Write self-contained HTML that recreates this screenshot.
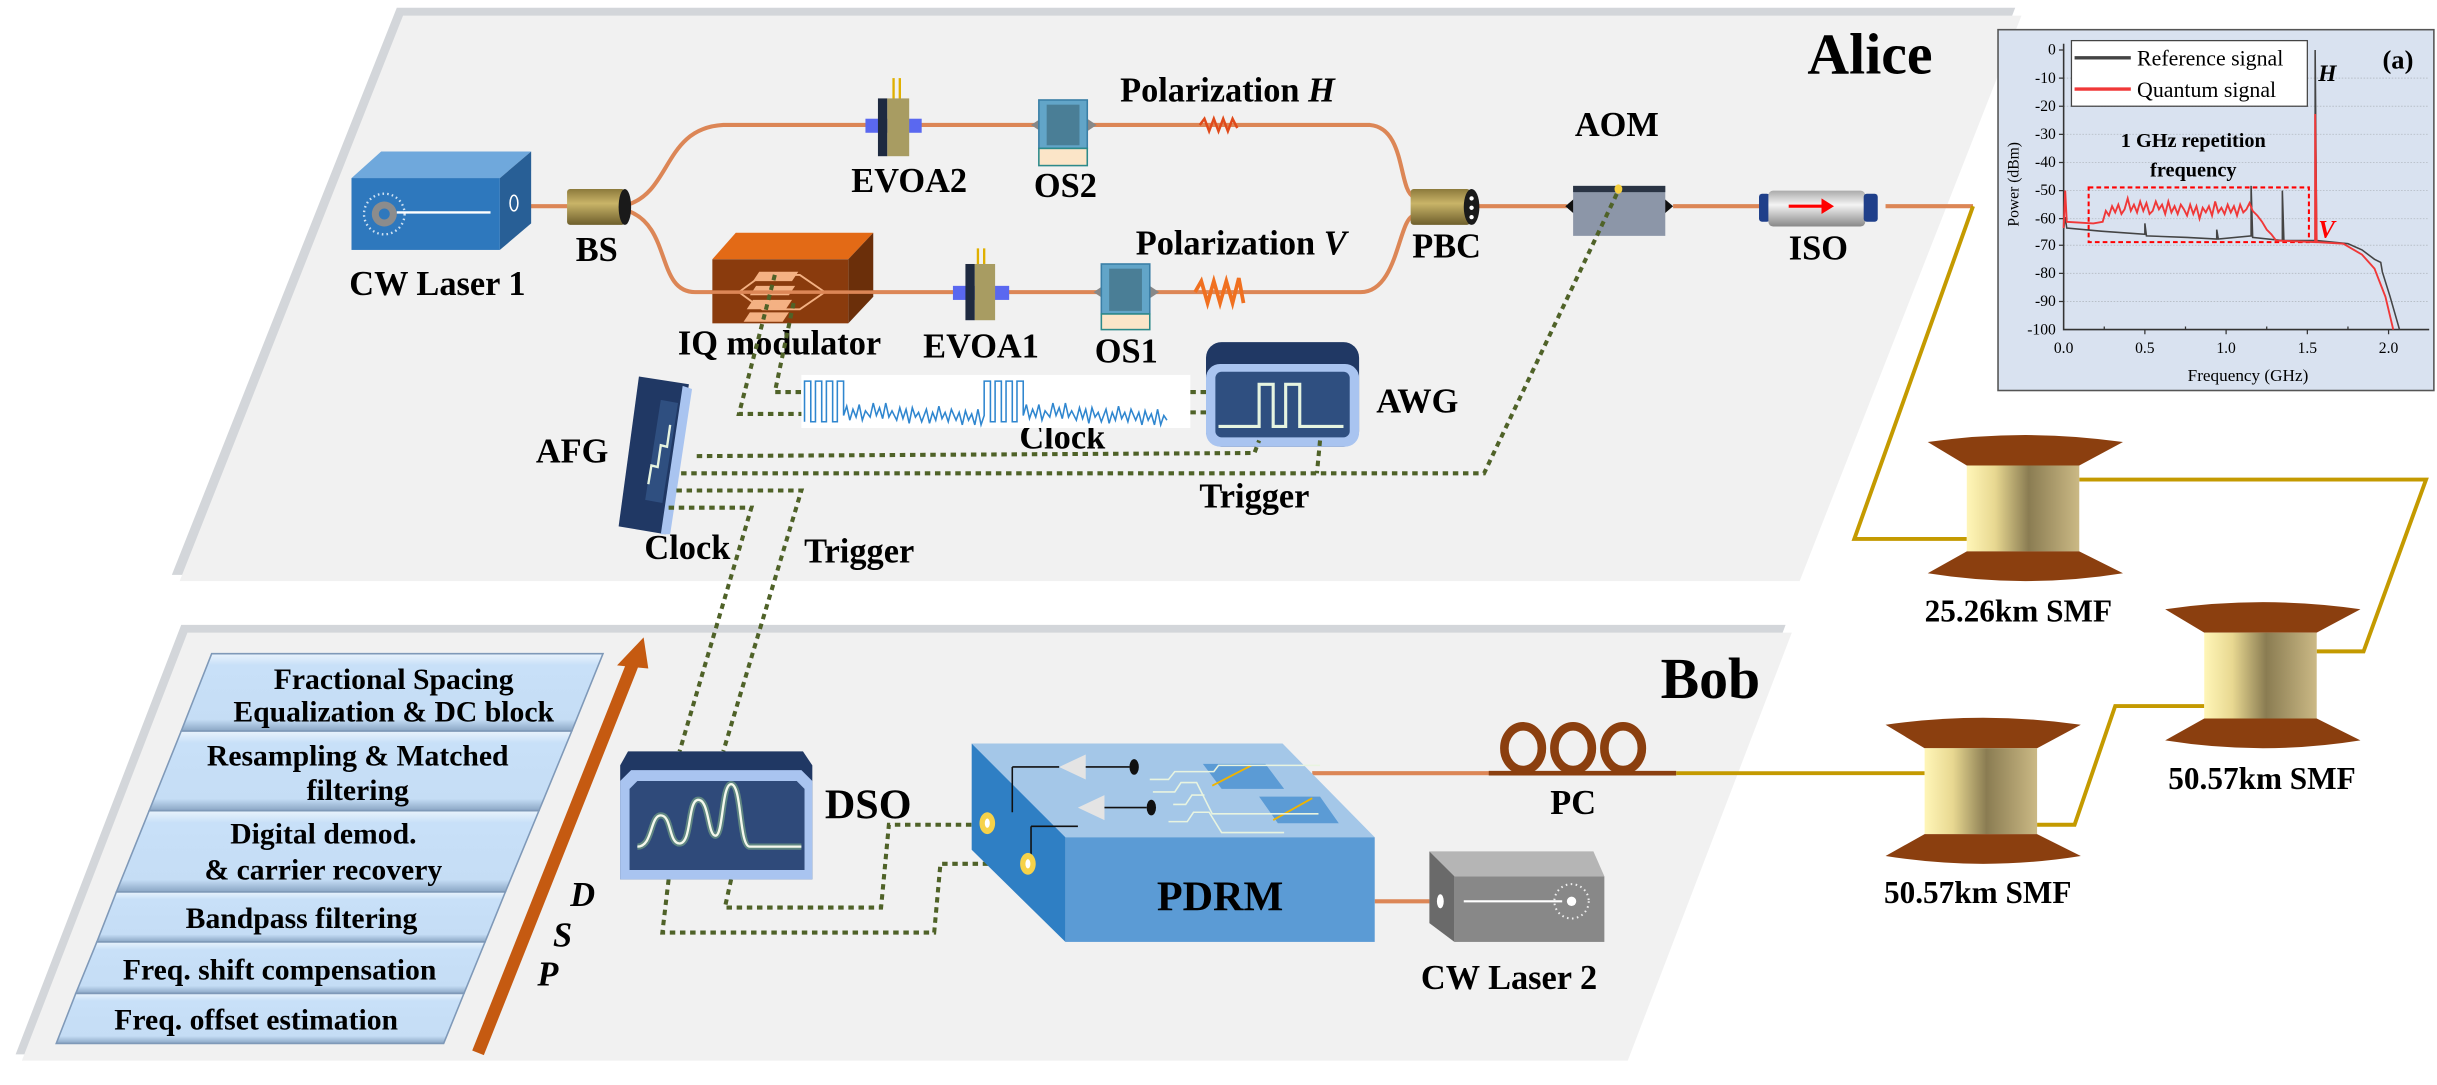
<!DOCTYPE html>
<html><head><meta charset="utf-8"><style>
html,body{margin:0;padding:0;background:#fff;}
svg{display:block;}
</style></head><body>
<svg width="2437" height="1085" viewBox="0 0 1560 694.6" preserveAspectRatio="none" xmlns="http://www.w3.org/2000/svg" font-family="Liberation Serif, serif" font-weight="bold">
<defs>
<linearGradient id="barrel" x1="0" x2="1" y1="0" y2="0">
<stop offset="0" stop-color="#fff6b8"/><stop offset="0.25" stop-color="#e8d891"/><stop offset="0.55" stop-color="#8a7c52"/><stop offset="1" stop-color="#cbb985"/></linearGradient>
<linearGradient id="dsp" x1="0" x2="0" y1="0" y2="1">
<stop offset="0" stop-color="#e9f3fc"/><stop offset="0.15" stop-color="#c8e0f8"/><stop offset="0.85" stop-color="#c5ddf5"/><stop offset="1" stop-color="#8aa6c4"/></linearGradient>
<linearGradient id="iso" x1="0" x2="0" y1="0" y2="1">
<stop offset="0" stop-color="#aaa"/><stop offset="0.4" stop-color="#f4f4f4"/><stop offset="1" stop-color="#888"/></linearGradient>
<linearGradient id="bs" x1="0" x2="0" y1="0" y2="1">
<stop offset="0" stop-color="#8c7a3c"/><stop offset="0.4" stop-color="#c9b468"/><stop offset="1" stop-color="#6e5f2c"/></linearGradient>
<g id="spool">
<path d="M0,5 Q62.5,-4 125,5 L97,20 L25,20 Z" fill="#8b3f0f"/>
<rect x="25" y="20" width="72" height="55" fill="url(#barrel)"/>
<path d="M25,75 L97,75 L125,89 Q62.5,99 0,89 Z" fill="#8b3f0f"/>
</g>
</defs>

<polygon points="254,5 1290,5 1150,368 110,368" fill="#d3d6da"/>
<polygon points="258,10 1294,10 1152,372 115,372" fill="#f1f1f1"/>
<polygon points="116,400 1143,400 1040,675 10,675" fill="#d3d6da"/>
<polygon points="120,405 1147,405 1042,679 14,679" fill="#f1f1f1"/>

<text x="1157" y="47" font-size="37">Alice</text>
<text x="1063" y="447" font-size="37">Bob</text>

<g fill="none" stroke="#dc8656" stroke-width="2.6">
<path d="M322,132 L365,132"/>
<path d="M402,131 C430,122 425,82 463,80 L877,80 C900,82 895,122 905,126"/>
<path d="M402,135 C430,145 420,187 445,187 L871,187 C895,187 895,140 905,138"/>
<path d="M946,132 L1003,132 M1071,132 L1128,132 M1207,132 L1263,132"/>
<path d="M840,495 L958,495 M880,577 L915,577"/>
</g>
<path d="M953,495 L1073,495" stroke="#8b3f0f" stroke-width="3"/>
<path d="M768,80 l3,-4 l3,8 l3,-8 l3,8 l3,-8 l3,8 l3,-8 l3,6" fill="none" stroke="#e04a1a" stroke-width="1.6"/>
<path d="M765,187 l4,-7 l4,14 l4,-14 l4,14 l4,-14 l4,14 l4,-16 l3,16" fill="none" stroke="#f07020" stroke-width="2.4"/>

<polygon points="225,114 244,97 340,97 320,114" fill="#6fa8dc"/>
<polygon points="320,114 340,97 340,143 320,160" fill="#285f96"/>
<rect x="225" y="114" width="95" height="46" fill="#2e78bd"/>
<circle cx="246" cy="137" r="13" fill="none" stroke="#cfe2f3" stroke-width="1.5" stroke-dasharray="1 2"/>
<circle cx="246" cy="137" r="8" fill="#8c8c8c"/><circle cx="246" cy="137" r="3.5" fill="#2e78bd"/>
<line x1="254" y1="136" x2="314" y2="136" stroke="#fff" stroke-width="1.5"/>
<ellipse cx="329" cy="130" rx="2.5" ry="5" fill="none" stroke="#fff" stroke-width="1"/>

<g>
<text x="280" y="189" font-size="22" text-anchor="middle">CW Laser 1</text>
<text x="382" y="167" font-size="22" text-anchor="middle">BS</text>
<text x="582" y="123" font-size="22" text-anchor="middle">EVOA2</text>
<text x="682" y="126" font-size="22" text-anchor="middle">OS2</text>
<text x="717" y="65" font-size="22">Polarization <tspan font-style="italic">H</tspan></text>
<text x="499" y="227" font-size="22" text-anchor="middle">IQ modulator</text>
<text x="628" y="229" font-size="22" text-anchor="middle">EVOA1</text>
<text x="721" y="232" font-size="22" text-anchor="middle">OS1</text>
<text x="727" y="163" font-size="22">Polarization <tspan font-style="italic">V</tspan></text>
<text x="926" y="165" font-size="22" text-anchor="middle">PBC</text>
<text x="1035" y="87" font-size="22" text-anchor="middle">AOM</text>
<text x="1164" y="166" font-size="22" text-anchor="middle">ISO</text>
<text x="881" y="264" font-size="22">AWG</text>
<text x="343" y="296" font-size="22">AFG</text>
<text x="680" y="287" font-size="22" text-anchor="middle">Clock</text>
<text x="803" y="325" font-size="22" text-anchor="middle">Trigger</text>
<text x="440" y="358" font-size="22" text-anchor="middle">Clock</text>
<text x="550" y="360" font-size="22" text-anchor="middle">Trigger</text>
<text x="1292" y="398" font-size="20" text-anchor="middle">25.26km SMF</text>
<text x="1448" y="505" font-size="20" text-anchor="middle">50.57km SMF</text>
<text x="1266" y="578" font-size="20" text-anchor="middle">50.57km SMF</text>
<text x="1007" y="521" font-size="22" text-anchor="middle">PC</text>
<text x="966" y="633" font-size="22" text-anchor="middle">CW Laser 2</text>
<text x="528" y="524" font-size="27">DSO</text>
</g>

<rect x="363" y="121" width="37" height="23" fill="url(#bs)" rx="2"/>
<ellipse cx="400" cy="132.5" rx="4" ry="11.5" fill="#1a1a1a"/>

<line x1="572" y1="50" x2="572" y2="64" stroke="#e0b000" stroke-width="1.5"/><line x1="576" y1="50" x2="576" y2="64" stroke="#e0b000" stroke-width="1.5"/>
<rect x="554" y="76" width="36" height="9" fill="#5a68f0"/>
<rect x="562" y="63" width="6" height="37" fill="#1e2a40"/><rect x="568" y="63" width="14" height="37" fill="#a89c62"/>
<polygon points="660,80 666,76 666,84" fill="#888"/><polygon points="702,80 696,76 696,84" fill="#888"/>
<rect x="665" y="64" width="31" height="31" fill="#62a5c8" stroke="#3a7fa6"/><rect x="670" y="67" width="21" height="26" fill="#4a7e96"/>
<rect x="665" y="95" width="31" height="11" fill="#fbe5c8" stroke="#2c8a8a"/>

<polygon points="456,166 471,149 559,149 543,166" fill="#e36a16"/>
<polygon points="543,166 559,149 559,190 543,207" fill="#6b2f0a"/>
<rect x="456" y="166" width="87" height="41" fill="#8a3b0d"/>
<g fill="#f4b183"><polygon points="486,174 511,174 507,180 482,180"/><polygon points="484,183 509,183 505,189 480,189"/><polygon points="482,192 507,192 503,198 478,198"/><polygon points="480,200 505,200 501,206 476,206"/></g>
<polygon points="473,187 488,176 512,176 528,187 512,198 488,198" fill="none" stroke="#f4b183" stroke-width="1.2"/>
<path d="M445,187 L560,187" stroke="#dc8656" stroke-width="2.2"/>
<line x1="626" y1="159" x2="626" y2="170" stroke="#e0b000" stroke-width="1.5"/><line x1="630" y1="159" x2="630" y2="170" stroke="#e0b000" stroke-width="1.5"/>
<rect x="610" y="183" width="36" height="9" fill="#5a68f0"/>
<rect x="618" y="169" width="6" height="36" fill="#1e2a40"/><rect x="624" y="169" width="13" height="36" fill="#a89c62"/>
<polygon points="700,187 706,183 706,191" fill="#888"/><polygon points="742,187 736,183 736,191" fill="#888"/>
<rect x="705" y="169" width="31" height="32" fill="#62a5c8" stroke="#3a7fa6"/><rect x="710" y="172" width="21" height="27" fill="#4a7e96"/>
<rect x="705" y="201" width="31" height="10" fill="#fbe5c8" stroke="#2c8a8a"/>

<rect x="903" y="121" width="38" height="23" fill="url(#bs)" rx="2"/>
<ellipse cx="942" cy="132.5" rx="5" ry="11.5" fill="#1a1a1a"/>
<circle cx="942" cy="127" r="1.4" fill="#fff"/><circle cx="942" cy="133" r="1.4" fill="#fff"/><circle cx="942" cy="139" r="1.4" fill="#fff"/>
<polygon points="1002,132 1009,126 1009,138" fill="#111"/><polygon points="1071,132 1064,126 1064,138" fill="#111"/>
<rect x="1007" y="119" width="59" height="32" fill="#8c96a8"/><rect x="1007" y="119" width="59" height="4" fill="#2a3444"/>
<ellipse cx="1036" cy="121" rx="2.5" ry="3" fill="#f6d040"/>
<rect x="1126" y="124" width="7" height="18" fill="#1f3f8a" rx="2"/>
<rect x="1132" y="122" width="62" height="23" fill="url(#iso)" rx="3"/>
<rect x="1193" y="124" width="9" height="18" fill="#1f3f8a" rx="2"/>
<line x1="1145" y1="132" x2="1168" y2="132" stroke="#f00" stroke-width="2"/><polygon points="1174,132 1166,127 1166,137" fill="#f00"/>

<rect x="513" y="240" width="249" height="34" fill="#fff"/>
<path d="M515,270 V244 h4 V270 h3 V244 h4 V270 h3 V244 h4 V270 h3 V244 h4 V266 l2,-6 l2,9 l2,-7 l2,5 l2,-8 l2,10 l2,-6 l3,4 l2,-9 l2,8 l2,-5 l2,7 l2,-10 l2,9 l2,-4 l3,6 l2,-8 l2,7 l2,-6 l2,9 l2,-10 l2,6 l2,-3 l2,6 l3,-8 l2,9 l2,-7 l2,5 l2,-9 l2,8 l2,-4 l2,6 l2,-8 l3,7 l2,-5 l2,8 l2,-9 l2,6 l2,-4 l2,7 l2,-10 l2,10 l2,-6 V244 h4 V270 h3 V244 h4 V270 h3 V244 h4 V270 h3 V244 h4 V266 l2,-7 l2,9 l2,-6 l2,5 l2,-8 l2,10 l2,-6 l3,4 l2,-9 l2,8 l2,-5 l2,7 l2,-10 l2,9 l2,-4 l3,6 l2,-8 l2,7 l2,-6 l2,9 l2,-10 l2,6 l2,-3 l2,6 l3,-8 l2,9 l2,-7 l2,5 l2,-9 l2,8 l2,-4 l2,6 l2,-8 l3,7 l2,-5 l2,8 l2,-9 l2,6 l2,-4 l2,7 l2,-10 l2,10 l2,-6 l2,3" fill="none" stroke="#2f86cf" stroke-width="1"/>

<rect x="772" y="219" width="98" height="67" rx="10" fill="#203864"/>
<rect x="772" y="233" width="98" height="53" rx="9" fill="#a9c4f0"/>
<rect x="778" y="238" width="86" height="42" rx="4" fill="#2f4f80"/>
<path d="M780,273 H806 V246 H815 V273 H823 V246 H832 V273 H860" fill="none" stroke="#e6f4e0" stroke-width="2"/>

<polygon points="409,241 441,246 426,342 396,337" fill="#203864"/>
<polygon points="437,247 443,249 429,342 423,342" fill="#a9c4f0"/>
<polygon points="423,256 434,258 424,322 413,320" fill="#2f4f80"/>
<path d="M415,310 l2,-12 l4,1 l2,-14 l4,1 l2,-14" fill="none" stroke="#e6f4e0" stroke-width="1.5"/>

<g fill="none" stroke="#4f6228" stroke-width="2.6" stroke-dasharray="3.5 3">
<path d="M508,194 L496,251 L513,251"/>
<path d="M496,176 L473,265 L513,265"/>
<path d="M762,251 L772,251 M762,264 L772,264"/>
<path d="M446,292 L803,290 L806,282"/>
<path d="M436,303 L950,303 L1035,124"/>
<path d="M845,282 L843,303"/>
<path d="M433,314 L513,314 L463,481"/>
<path d="M428,325 L481,325 L435,481"/>
<path d="M468,563 L464,581 L564,581 L569,528 L632,528"/>
<path d="M428,563 L424,597 L598,597 L602,553 L658,553"/>
</g>

<g fill="none" stroke="#c49a00" stroke-width="2.5">
<path d="M1263,132 L1187,345 L1259,345"/>
<path d="M1331,307 L1553,307 L1513,417 L1483,417"/>
<path d="M1411,452 L1354,452 L1328,528 L1304,528"/>
<path d="M1232,495 L1073,495"/>
</g>
<use href="#spool" x="1234" y="278"/>
<use href="#spool" x="1386" y="385"/>
<use href="#spool" x="1207" y="459"/>

<g fill="none" stroke="#8b3f0f" stroke-width="5.5">
<ellipse cx="975" cy="479" rx="12" ry="14"/><ellipse cx="1007" cy="479" rx="12" ry="14"/><ellipse cx="1039" cy="479" rx="12" ry="14"/>
</g>

<polygon points="622,476 821,476 880,536 682,536" fill="#a4c7e8"/>
<polygon points="622,476 682,536 682,603 622,544" fill="#2f7fc4"/>
<rect x="682" y="536" width="198" height="67" fill="#5b9bd5"/>
<text x="781" y="583" font-size="27" text-anchor="middle">PDRM</text>
<g fill="#5b9bd5"><polygon points="770,489 810,489 822,505 782,505"/><polygon points="806,510 845,510 857,527 818,527"/></g>
<g stroke="#f0b400" stroke-width="1.2"><line x1="776" y1="503" x2="801" y2="490"/><line x1="815" y1="525" x2="840" y2="511"/></g>
<g fill="none" stroke="#e8f4e0" stroke-width="1"><path d="M736,499 h12 l4,-5 h25 l3,-4 h65"/><path d="M738,507 h14 l4,-6 h10 l10,20 h68"/><path d="M748,526 h12 l4,-6 h10 l8,13 h40"/><path d="M751,515 h8 l4,-6 h8"/></g>
<g fill="#e4e4e4"><polygon points="678,491 695,483 695,499"/><polygon points="690,517 707,509 707,525"/></g>
<g fill="none" stroke="#111" stroke-width="1"><path d="M648,491 H678 M695,491 H723 M648,491 V520 M660,529 H690 M707,517 H734 M660,529 V552"/></g>
<ellipse cx="726" cy="491" rx="3" ry="5" fill="#111"/><ellipse cx="737" cy="517" rx="3" ry="5" fill="#111"/>
<ellipse cx="632" cy="527" rx="5" ry="7" fill="#f6d24a"/><ellipse cx="632" cy="527" rx="1.6" ry="3" fill="#fff"/>
<ellipse cx="658" cy="553" rx="5" ry="7" fill="#f6d24a"/><ellipse cx="658" cy="553" rx="1.6" ry="3" fill="#fff"/>

<polygon points="915,545 1020,545 1027,561 931,561" fill="#b5b5b5"/>
<polygon points="915,545 931,561 931,603 915,591" fill="#6a6a6a"/>
<rect x="931" y="561" width="96" height="42" fill="#888"/>
<ellipse cx="922" cy="577" rx="2.2" ry="4.5" fill="#fff"/>
<line x1="937" y1="577" x2="1000" y2="577" stroke="#fff" stroke-width="1.3"/>
<circle cx="1006" cy="577" r="11" fill="none" stroke="#eee" stroke-width="1.3" stroke-dasharray="1 2.2"/>
<circle cx="1006" cy="577" r="3" fill="#fff"/>

<path d="M402,481 H514 L520,490 V563 H397 V490 Z" fill="#203864"/>
<path d="M397,500 L404,493 H513 L520,500 V563 H397 Z" fill="#a9c4f0"/>
<path d="M403,505 L408,500 H510 L515,505 V557 H403 Z" fill="#2f4a7a"/>
<path d="M408,542 C418,542 416,522 423,522 C430,522 428,540 435,540 C443,540 440,512 447,512 C454,512 453,535 458,535 C463,535 462,502 468,502 C475,502 473,542 480,542 H513" fill="none" stroke="#8fc28a" stroke-width="4" opacity="0.5"/>
<path d="M408,542 C418,542 416,522 423,522 C430,522 428,540 435,540 C443,540 440,512 447,512 C454,512 453,535 458,535 C463,535 462,502 468,502 C475,502 473,542 480,542 H513" fill="none" stroke="#f4f8ec" stroke-width="1.5"/>

<g stroke="#7f99b8" stroke-width="1" fill="url(#dsp)">
<polygon points="135.5,418.5 386,418.5 366,468 116,468"/>
<polygon points="116,468 366,468 345,519 95.5,519"/>
<polygon points="95.5,519 345,519 323.5,571 74.5,571"/>
<polygon points="74.5,571 323.5,571 310.5,603 62,603"/>
<polygon points="62,603 310.5,603 297,636 48.5,636"/>
<polygon points="48.5,636 297,636 284,668 36,668"/>
</g>
<g font-size="19" text-anchor="middle">
<text x="252" y="441">Fractional Spacing</text>
<text x="252" y="462">Equalization &amp; DC block</text>
<text x="229" y="490">Resampling &amp; Matched</text>
<text x="229" y="512">filtering</text>
<text x="207" y="540">Digital demod.</text>
<text x="207" y="563">&amp; carrier recovery</text>
<text x="193" y="594">Bandpass filtering</text>
<text x="179" y="627">Freq. shift compensation</text>
<text x="164" y="659">Freq. offset estimation</text>
</g>
<line x1="306" y1="674" x2="405" y2="425" stroke="#c55a11" stroke-width="8"/>
<polygon points="412,408 395,426 415,428" fill="#c55a11"/>
<g font-size="22" font-style="italic"><text x="365" y="580">D</text><text x="354" y="606">S</text><text x="344" y="631">P</text></g>

<rect x="1279" y="19" width="279" height="231" fill="#d9e2f0" stroke="#555" stroke-width="1"/>
<g stroke="#b8bfc8" stroke-width="0.6" stroke-dasharray="1 1">
<line x1="1321" y1="50" x2="1555" y2="50"/><line x1="1321" y1="68" x2="1555" y2="68"/><line x1="1321" y1="86" x2="1555" y2="86"/><line x1="1321" y1="104" x2="1555" y2="104"/><line x1="1321" y1="122" x2="1555" y2="122"/><line x1="1321" y1="140" x2="1555" y2="140"/><line x1="1321" y1="157" x2="1555" y2="157"/><line x1="1321" y1="175" x2="1555" y2="175"/><line x1="1321" y1="193" x2="1555" y2="193"/>
</g>
<path d="M1321,28 V211 H1555" fill="none" stroke="#333" stroke-width="1"/>
<g stroke="#333" stroke-width="0.8"><path d="M1318,32 h3 M1318,50 h3 M1318,68 h3 M1318,86 h3 M1318,104 h3 M1318,122 h3 M1318,140 h3 M1318,157 h3 M1318,175 h3 M1318,193 h3 M1373,211 v3 M1425,211 v3 M1477,211 v3 M1529,211 v3 M1347,211 v-2 M1399,211 v-2 M1451,211 v-2 M1503,211 v-2"/></g>
<g font-size="10" text-anchor="end" font-weight="normal">
<text x="1316" y="35">0</text><text x="1316" y="53">-10</text><text x="1316" y="71">-20</text><text x="1316" y="89">-30</text><text x="1316" y="107">-40</text><text x="1316" y="125">-50</text><text x="1316" y="143">-60</text><text x="1316" y="160">-70</text><text x="1316" y="178">-80</text><text x="1316" y="196">-90</text><text x="1316" y="214">-100</text>
</g>
<g font-size="10" text-anchor="middle" font-weight="normal">
<text x="1321" y="226">0.0</text><text x="1373" y="226">0.5</text><text x="1425" y="226">1.0</text><text x="1477" y="226">1.5</text><text x="1529" y="226">2.0</text>
<text x="1439" y="244" font-size="11">Frequency (GHz)</text>
</g>
<text x="0" y="0" font-size="10" font-weight="normal" text-anchor="middle" transform="translate(1292,118) rotate(-90)">Power (dBm)</text>
<path d="M1337,120 H1478 V155 H1337 Z" fill="none" stroke="#f00" stroke-width="1.3" stroke-dasharray="3 2"/>
<polyline fill="none" stroke="#444" stroke-width="1" points="1321,147 1322,139 1323,146 1345,148 1373,150 1373,143 1374,151 1400,152 1419,153 1419,147 1420,153 1441,151 1441,119 1442,152 1461,154 1461,122 1462,154 1482,154 1482,32 1483,154 1503,156 1512,160 1520,166 1524,168 1525,174 1530,190 1536,211"/>
<path d="M1321,146 L1322,122 L1323,142 L1340,143 L1346,142 l2,-7 l2,3 l2,-6 l2,4 l2,-5 l2,6 l2,-3 l2,-7 l2,8 l2,-4 l2,5 l2,-7 l2,6 l2,-5 l2,7 l2,-2 l2,-6 l2,5 l2,-3 l2,6 l2,-8 l2,7 l2,-4 l2,5 l2,-6 l2,3 l2,4 l2,-7 l2,6 l2,-5 l2,8 l2,-7 l2,3 l2,-4 l2,6 l2,-9 l2,7 l2,-3 l2,4 l2,-6 l2,5 l2,-4 l2,6 l2,-7 l2,5 l2,-2 l2,-4 l2,5 l3,3 l3,4 l3,5 l3,3 l3,4 L1482,155 L1482,73 L1483,155 L1500,156 L1512,163 L1520,172 L1527,190 L1532,211" fill="none" stroke="#f03838" stroke-width="1.2"/>
<rect x="1326" y="26" width="151" height="42" fill="#fff" stroke="#444" stroke-width="0.8"/>
<line x1="1328" y1="37" x2="1364" y2="37" stroke="#444" stroke-width="2.2"/>
<line x1="1328" y1="57" x2="1364" y2="57" stroke="#f03838" stroke-width="2.2"/>
<text x="1368" y="42" font-size="14" font-weight="normal">Reference signal</text>
<text x="1368" y="62" font-size="14" font-weight="normal">Quantum signal</text>
<text x="1404" y="94" font-size="13" text-anchor="middle">1 GHz repetition</text>
<text x="1404" y="113" font-size="13" text-anchor="middle">frequency</text>
<text x="1484" y="52" font-size="15" font-style="italic">H</text>
<text x="1535" y="44" font-size="17" text-anchor="middle">(a)</text>
<text x="1484" y="152" font-size="16" font-style="italic" fill="#f00">V</text>
</svg>
</body></html>
